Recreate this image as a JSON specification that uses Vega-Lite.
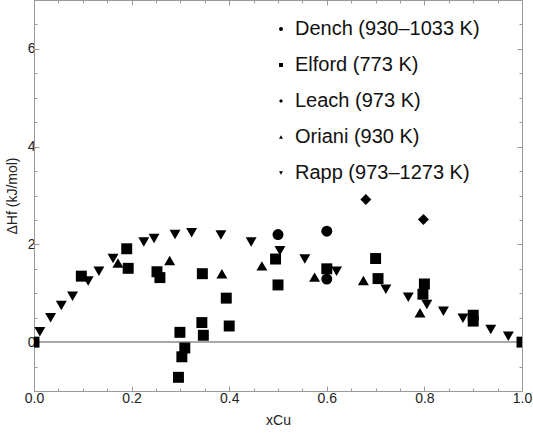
{
  "$schema": "https://vega.github.io/schema/vega-lite/v6.json",
  "width": 488,
  "height": 391,
  "autosize": "none",
  "padding": {"left": 34, "top": 0, "right": 11, "bottom": 44},
  "config": {"view": {"stroke": null}, "font": "Liberation Sans"},
  "data": {
    "values": [
      {"source": "Dench (930–1033 K)", "xCu": 0.50, "dH": 2.20},
      {"source": "Dench (930–1033 K)", "xCu": 0.60, "dH": 2.27},
      {"source": "Dench (930–1033 K)", "xCu": 0.60, "dH": 1.29},
      {"source": "Elford (773 K)", "xCu": 0.0, "dH": 0.0},
      {"source": "Elford (773 K)", "xCu": 0.097, "dH": 1.35},
      {"source": "Elford (773 K)", "xCu": 0.19, "dH": 1.91},
      {"source": "Elford (773 K)", "xCu": 0.193, "dH": 1.51},
      {"source": "Elford (773 K)", "xCu": 0.252, "dH": 1.44},
      {"source": "Elford (773 K)", "xCu": 0.258, "dH": 1.32},
      {"source": "Elford (773 K)", "xCu": 0.299, "dH": 0.20},
      {"source": "Elford (773 K)", "xCu": 0.309, "dH": -0.12},
      {"source": "Elford (773 K)", "xCu": 0.303, "dH": -0.30},
      {"source": "Elford (773 K)", "xCu": 0.296, "dH": -0.72},
      {"source": "Elford (773 K)", "xCu": 0.345, "dH": 1.40},
      {"source": "Elford (773 K)", "xCu": 0.344, "dH": 0.40},
      {"source": "Elford (773 K)", "xCu": 0.347, "dH": 0.14},
      {"source": "Elford (773 K)", "xCu": 0.394, "dH": 0.90},
      {"source": "Elford (773 K)", "xCu": 0.40, "dH": 0.33},
      {"source": "Elford (773 K)", "xCu": 0.495, "dH": 1.70},
      {"source": "Elford (773 K)", "xCu": 0.50, "dH": 1.17},
      {"source": "Elford (773 K)", "xCu": 0.60, "dH": 1.50},
      {"source": "Elford (773 K)", "xCu": 0.70, "dH": 1.71},
      {"source": "Elford (773 K)", "xCu": 0.705, "dH": 1.30},
      {"source": "Elford (773 K)", "xCu": 0.80, "dH": 1.19},
      {"source": "Elford (773 K)", "xCu": 0.797, "dH": 0.98},
      {"source": "Elford (773 K)", "xCu": 0.90, "dH": 0.55},
      {"source": "Elford (773 K)", "xCu": 0.90, "dH": 0.43},
      {"source": "Elford (773 K)", "xCu": 1.0, "dH": 0.0},
      {"source": "Leach (973 K)", "xCu": 0.68, "dH": 2.92},
      {"source": "Leach (973 K)", "xCu": 0.798, "dH": 2.51},
      {"source": "Oriani (930 K)", "xCu": 0.172, "dH": 1.62},
      {"source": "Oriani (930 K)", "xCu": 0.278, "dH": 1.67},
      {"source": "Oriani (930 K)", "xCu": 0.385, "dH": 1.40},
      {"source": "Oriani (930 K)", "xCu": 0.467, "dH": 1.56},
      {"source": "Oriani (930 K)", "xCu": 0.575, "dH": 1.33},
      {"source": "Oriani (930 K)", "xCu": 0.675, "dH": 1.26},
      {"source": "Oriani (930 K)", "xCu": 0.791, "dH": 0.60},
      {"source": "Rapp (973–1273 K)", "xCu": 0.012, "dH": 0.21},
      {"source": "Rapp (973–1273 K)", "xCu": 0.034, "dH": 0.50},
      {"source": "Rapp (973–1273 K)", "xCu": 0.056, "dH": 0.75},
      {"source": "Rapp (973–1273 K)", "xCu": 0.079, "dH": 0.94},
      {"source": "Rapp (973–1273 K)", "xCu": 0.111, "dH": 1.25},
      {"source": "Rapp (973–1273 K)", "xCu": 0.133, "dH": 1.45},
      {"source": "Rapp (973–1273 K)", "xCu": 0.162, "dH": 1.71},
      {"source": "Rapp (973–1273 K)", "xCu": 0.225, "dH": 2.05},
      {"source": "Rapp (973–1273 K)", "xCu": 0.246, "dH": 2.12},
      {"source": "Rapp (973–1273 K)", "xCu": 0.289, "dH": 2.20},
      {"source": "Rapp (973–1273 K)", "xCu": 0.323, "dH": 2.24},
      {"source": "Rapp (973–1273 K)", "xCu": 0.383, "dH": 2.19},
      {"source": "Rapp (973–1273 K)", "xCu": 0.445, "dH": 2.05},
      {"source": "Rapp (973–1273 K)", "xCu": 0.504, "dH": 1.87},
      {"source": "Rapp (973–1273 K)", "xCu": 0.555, "dH": 1.70},
      {"source": "Rapp (973–1273 K)", "xCu": 0.620, "dH": 1.45},
      {"source": "Rapp (973–1273 K)", "xCu": 0.721, "dH": 1.08},
      {"source": "Rapp (973–1273 K)", "xCu": 0.767, "dH": 0.92},
      {"source": "Rapp (973–1273 K)", "xCu": 0.805, "dH": 0.77},
      {"source": "Rapp (973–1273 K)", "xCu": 0.839, "dH": 0.63},
      {"source": "Rapp (973–1273 K)", "xCu": 0.879, "dH": 0.49},
      {"source": "Rapp (973–1273 K)", "xCu": 0.936, "dH": 0.26},
      {"source": "Rapp (973–1273 K)", "xCu": 0.972, "dH": 0.12}
    ]
  },
  "layer": [
    {
      "mark": {"type": "rule", "color": "#aaaaaa", "strokeWidth": 1},
      "encoding": {"y": {"datum": 0, "type": "quantitative", "axis": null}}
    },
    {
      "mark": {"type": "point", "filled": true, "opacity": 1, "size": 120, "color": "black", "strokeWidth": 0, "clip": true},
      "encoding": {
        "x": {
          "field": "xCu", "type": "quantitative",
          "scale": {"domain": [0, 1], "nice": false, "zero": false},
          "axis": {
            "orient": "bottom", "title": "xCu", "titleFontSize": 14, "titleFontWeight": "normal", "titleColor": "#222", "titlePadding": 6,
            "values": [0, 0.05, 0.1, 0.15, 0.2, 0.25, 0.3, 0.35, 0.4, 0.45, 0.5, 0.55, 0.6, 0.65, 0.7, 0.75, 0.8, 0.85, 0.9, 0.95, 1],
            "labelExpr": "abs(datum.value*5 - round(datum.value*5)) < 0.001 ? format(datum.value, '.1f') : ''",
            "labelFontSize": 14, "labelColor": "#222", "labelFlush": false, "labelOverlap": false, "labelPadding": 5,
            "grid": false, "domainColor": "#999999", "tickColor": "#999999",
            "tickSize": {"condition": {"test": "abs(datum.value*5 - round(datum.value*5)) < 0.001", "value": -5}, "value": -3}
          }
        },
        "y": {
          "field": "dH", "type": "quantitative",
          "scale": {"domain": [-1, 7], "nice": false, "zero": false},
          "axis": {
            "orient": "left", "title": "ΔHf (kJ/mol)", "titleFontSize": 14, "titleFontWeight": "normal", "titleColor": "#222", "titlePadding": 8,
            "values": [-1, -0.5, 0, 0.5, 1, 1.5, 2, 2.5, 3, 3.5, 4, 4.5, 5, 5.5, 6, 6.5, 7],
            "labelExpr": "datum.value % 2 == 0 ? format(datum.value, 'd') : ''",
            "labelFontSize": 14, "labelColor": "#222", "labelFlush": false, "labelOverlap": false, "labelPadding": 4,
            "grid": false, "domainColor": "#999999", "tickColor": "#999999",
            "tickSize": {"condition": {"test": "datum.value % 2 == 0", "value": -5}, "value": -3}
          }
        },
        "shape": {
          "field": "source", "type": "nominal",
          "scale": {
            "domain": ["Dench (930–1033 K)", "Elford (773 K)", "Leach (973 K)", "Oriani (930 K)", "Rapp (973–1273 K)"],
            "range": ["circle", "square", "diamond", "triangle-up", "triangle-down"]
          },
          "legend": {
            "title": null, "orient": "none", "legendX": 237, "legendY": 19,
            "labelFontSize": 20, "labelColor": "#111", "labelLimit": 300, "labelOffset": 4,
            "symbolSize": 16, "symbolFillColor": "black", "symbolStrokeWidth": 0, "symbolOpacity": 1,
            "rowPadding": 16
          }
        }
      }
    },
    {
      "mark": {"type": "point", "opacity": 0},
      "encoding": {
        "x": {
          "field": "xCu", "type": "quantitative",
          "scale": {"domain": [0, 1], "nice": false, "zero": false},
          "axis": {
            "orient": "top", "title": null, "labels": false,
            "values": [0, 0.05, 0.1, 0.15, 0.2, 0.25, 0.3, 0.35, 0.4, 0.45, 0.5, 0.55, 0.6, 0.65, 0.7, 0.75, 0.8, 0.85, 0.9, 0.95, 1],
            "grid": false, "domainColor": "#999999", "tickColor": "#999999",
            "tickSize": {"condition": {"test": "abs(datum.value*5 - round(datum.value*5)) < 0.001", "value": -5}, "value": -3}
          }
        },
        "y": {
          "field": "dH", "type": "quantitative",
          "scale": {"domain": [-1, 7], "nice": false, "zero": false},
          "axis": {
            "orient": "right", "title": null, "labels": false,
            "values": [-1, -0.5, 0, 0.5, 1, 1.5, 2, 2.5, 3, 3.5, 4, 4.5, 5, 5.5, 6, 6.5, 7],
            "grid": false, "domainColor": "#999999", "tickColor": "#999999",
            "tickSize": {"condition": {"test": "datum.value % 2 == 0", "value": -5}, "value": -3}
          }
        }
      }
    }
  ],
  "resolve": {"axis": {"x": "independent", "y": "independent"}}
}
